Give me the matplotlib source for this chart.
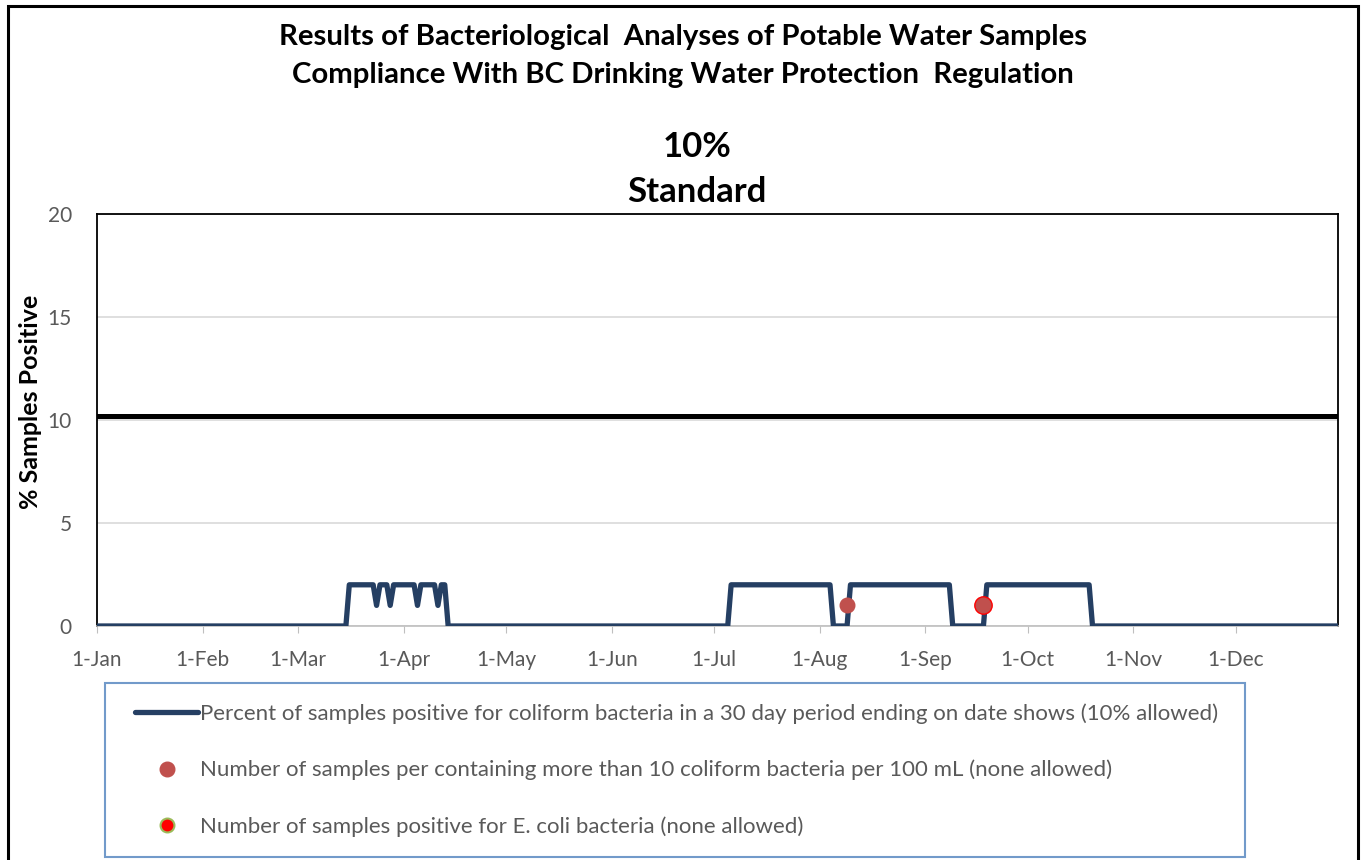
import pandas as pd
import numpy as np
import matplotlib.pyplot as plt
from matplotlib.lines import Line2D
from matplotlib.patches import Rectangle
from matplotlib.legend_handler import HandlerLine2D

plt.rcParams['font.family'] = ['Lato', 'DejaVu Sans']

# 30-day percent positive (change points of the step line)
pct_dates = ["2019-01-01", "2019-03-15", "2019-03-16", "2019-03-23", "2019-03-24", "2019-03-25",
             "2019-03-27", "2019-03-28", "2019-03-29", "2019-04-04", "2019-04-05", "2019-04-06",
             "2019-04-10", "2019-04-11", "2019-04-12", "2019-04-13", "2019-04-14",
             "2019-07-05", "2019-07-06", "2019-08-04", "2019-08-05", "2019-08-09", "2019-08-10",
             "2019-09-08", "2019-09-09", "2019-09-18", "2019-09-19", "2019-10-19", "2019-10-20",
             "2019-12-31"]
pct_values = [0, 0, 2, 2, 1, 2,
              2, 1, 2, 2, 1, 2,
              2, 1, 2, 2, 0,
              0, 2, 2, 0, 0, 2,
              2, 0, 0, 2, 2, 0,
              0]

coliform_dates = ["2019-08-09", "2019-09-18"]
coliform_values = [1, 1]
ecoli_dates = ["2019-09-18"]
ecoli_values = [1]

standard = 10.2

month_labels = ["1-Jan", "1-Feb", "1-Mar", "1-Apr", "1-May", "1-Jun",
                "1-Jul", "1-Aug", "1-Sep", "1-Oct", "1-Nov", "1-Dec"]

line_color = "#253F63"
dot_color = "#C0504D"
grey = "#595959"


class ShiftedHandler(HandlerLine2D):
    # moves the legend handle a bit to the right, like the original chart
    shift = 0.47

    def create_artists(self, legend, orig_handle, xdescent, ydescent, width, height, fontsize, trans):
        s = self.shift * fontsize
        return super().create_artists(legend, orig_handle, xdescent - s, ydescent,
                                      width - s, height, fontsize, trans)


fig = plt.figure(figsize=(13.62, 8.6), dpi=100)
ax = fig.add_axes([97/1362, 1-626/860, (1338-97)/1362, (626-214)/860])

x = pd.to_datetime(pct_dates)
ax.plot(x, pct_values, color=line_color, lw=3.8, solid_joinstyle='round',
        solid_capstyle='round', zorder=4)
ax.axhline(standard, color='black', lw=3.6, zorder=3)
ax.plot(pd.to_datetime(ecoli_dates), ecoli_values, 'o', ms=12.5, mfc='red', mec='red', zorder=5)
ax.plot(pd.to_datetime(coliform_dates), coliform_values, 'o', ms=10.5, mfc=dot_color,
        mec=dot_color, zorder=6)

ax.set_xlim(pd.Timestamp("2019-01-01"), pd.Timestamp("2019-12-31"))
ax.set_ylim(0, 20)
ax.set_yticks([0, 5, 10, 15, 20])
ax.yaxis.grid(True, color="#D9D9D9", lw=1.2)
ax.set_axisbelow(True)
ticks = pd.date_range("2019-01-01", periods=12, freq="MS")
ax.set_xticks(ticks)
ax.set_xticklabels(month_labels)
ax.tick_params(axis='y', length=0, labelsize=15, labelcolor=grey, pad=18)
ax.tick_params(axis='x', length=5, color="#BFBFBF", labelsize=15, labelcolor=grey, pad=12)
for s in ['left', 'top', 'right']:
    ax.spines[s].set_color('black')
    ax.spines[s].set_linewidth(1.3)
ax.spines['bottom'].set_color("#BFBFBF")
ax.spines['bottom'].set_linewidth(1.2)
ax.set_ylabel("% Samples Positive", fontsize=18, fontweight='bold')
ax.yaxis.set_label_coords(-0.0443, 0.544)

fig.text(683/1362, 1-37/860, "Results of Bacteriological  Analyses of Potable Water Samples",
         ha='center', va='center', fontsize=21.2, fontweight='bold')
fig.text(683/1362, 1-75/860, "Compliance With BC Drinking Water Protection  Regulation",
         ha='center', va='center', fontsize=21.2, fontweight='bold')
fig.text(697/1362, 1-147/860, "10%", ha='center', va='center', fontsize=25, fontweight='bold')
fig.text(697/1362, 1-192/860, "Standard", ha='center', va='center', fontsize=25, fontweight='bold')

handles = [
    Line2D([], [], color=line_color, lw=3.8, solid_capstyle='round'),
    Line2D([], [], ls='none', marker='o', ms=10.5, mfc=dot_color, mec=dot_color),
    Line2D([], [], ls='none', marker='o', ms=10, mfc='red', mec='#9BBB59', mew=1.5),
]
labels = [
    "Percent of samples positive for coliform bacteria in a 30 day period ending on date shows (10% allowed)",
    "Number of samples per containing more than 10 coliform bacteria per 100 mL (none allowed)",
    "Number of samples positive for E. coli bacteria (none allowed)",
]
leg = fig.legend(handles, labels, loc='upper left',
                 bbox_to_anchor=(105/1362, 1-683/860 - 0.01, (1245-105)/1362, 0.01),
                 mode='expand', fontsize=16, labelcolor=grey, frameon=True, fancybox=False,
                 handlelength=3.27, handletextpad=0.1, labelspacing=1.63, borderpad=0.9,
                 borderaxespad=0, handler_map={Line2D: ShiftedHandler()})
leg.get_frame().set_edgecolor('#4F81BD')
leg.get_frame().set_linewidth(1.5)

# outer chart border
fig.patches.append(Rectangle((8/1362, -0.05), (1358-8)/1362, 1.05-6/860, transform=fig.transFigure,
                             fill=False, edgecolor='black', lw=2.2))

fig.savefig("out.png", dpi=100)
